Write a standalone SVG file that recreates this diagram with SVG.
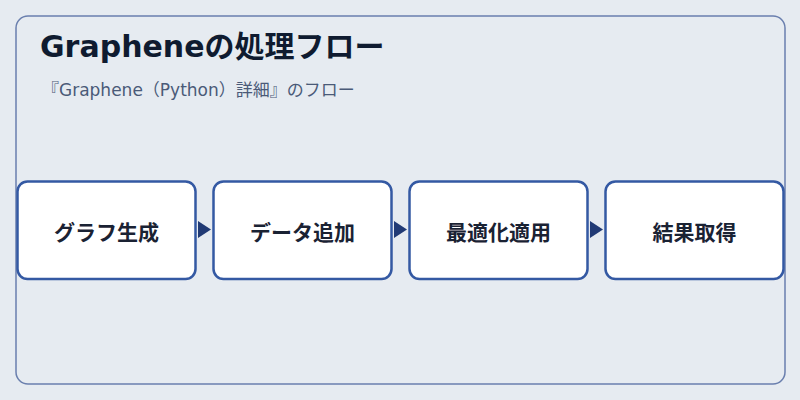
<svg xmlns="http://www.w3.org/2000/svg" width="800" height="400" viewBox="0 0 800 400">
<defs>
<style>
.node rect{fill:#ffffff;stroke:#3459a3;stroke-width:2.5}
.node text{font-family:"DejaVu Sans","Noto Sans CJK JP",sans-serif;font-size:21px;font-weight:700;fill:#1a2233;text-anchor:middle}
.conn{fill:#213a75}
</style>
</defs>
<rect x="0" y="0" width="800" height="400" fill="#e6ebf1"/>
<rect id="frame" x="16" y="16" width="769" height="368" rx="12" fill="#e6ebf1" stroke="#6a7fae" stroke-width="1.5"/>
<text x="40" y="57" font-family="DejaVu Sans, Noto Sans CJK JP, sans-serif" font-size="30" font-weight="700" fill="#0f1b30">Grapheneの処理フロー</text>
<text x="42" y="95.5" font-family="DejaVu Sans, Noto Sans CJK JP, sans-serif" font-size="17" fill="#4a5a78">『Graphene（Python）詳細』のフロー</text>
<g id="connectors">
<polygon class="conn" points="198,221 211,229.5 198,238"/>
<polygon class="conn" points="394,221 407,229.5 394,238"/>
<polygon class="conn" points="590,221 603,229.5 590,238"/>
</g>
<g id="n1" class="node"><rect x="17.5" y="181.5" width="178" height="97.5" rx="10"/><text x="106.5" y="240">グラフ生成</text></g>
<g id="n2" class="node"><rect x="213.5" y="181.5" width="178" height="97.5" rx="10"/><text x="302.5" y="240">データ追加</text></g>
<g id="n3" class="node"><rect x="409.5" y="181.5" width="178" height="97.5" rx="10"/><text x="498.5" y="240">最適化適用</text></g>
<g id="n4" class="node"><rect x="605.5" y="181.5" width="178" height="97.5" rx="10"/><text x="694.5" y="240">結果取得</text></g>
</svg>
